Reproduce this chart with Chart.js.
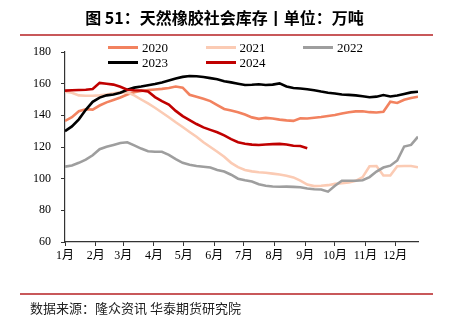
<!DOCTYPE html>
<html>
<head>
<meta charset="utf-8">
<script src="https://cdn.jsdelivr.net/npm/chart.js@4/dist/chart.umd.min.js"></script>
<style>
  html, body { margin: 0; padding: 0; background: #fff; }
  #wrap { position: relative; width: 449px; height: 324px; overflow: hidden; background: #fff; }
  #title { position: absolute; left: 0; top: 7px; width: 449px; text-align: center;
           font: bold 16px "Noto Sans CJK SC", sans-serif; line-height: 20px; color: #000; }
  .rule { position: absolute; left: 20px; width: 413px; height: 2px; background: #C8585A; }
  #src { position: absolute; left: 30px; top: 300px; font: 13px "Noto Sans CJK SC", sans-serif;
         line-height: 16px; color: #222; }
  #legend { position: absolute; left: 108px; top: 40px; display: grid;
            grid-template-columns: repeat(3, 97.5px); }
  .item { height: 15px; display: flex; align-items: center;
          font: 13px "Liberation Serif", serif; color: #000; white-space: nowrap; }
  .swatch { display: inline-block; width: 30px; height: 3px; margin-right: 4px; }
  canvas { position: absolute; left: 0; top: 0; }
</style>
</head>
<body>
<div id="wrap">
  <canvas id="c" width="449" height="324"></canvas>
  <div id="title">图 51：天然橡胶社会库存丨单位：万吨</div>
  <div class="rule" style="top:34px"></div>
  <div id="legend"></div>
  <div class="rule" style="top:293px"></div>
  <div id="src">数据来源：隆众资讯 华泰期货研究院</div>
</div>
<script>
// Weekly observation dates, as day of year
const weekDays = [0, 7, 14, 21, 28, 35, 42, 49, 56, 63, 70, 77, 84, 91, 98, 105, 112, 119, 126, 133,
  140, 147, 154, 161, 168, 175, 182, 189, 196, 203, 210, 217, 224, 231, 238, 245, 252, 259, 266, 273,
  280, 287, 294, 301, 308, 315, 322, 329, 336, 343, 350, 357];

// Month tick positions (day of year) and their labels
const monthStarts = [0, 31, 59, 90, 120, 151, 181, 212, 243, 273, 304, 334];
const monthLabels = ['1月', '2月', '3月', '4月', '5月', '6月', '7月', '8月', '9月', '10月', '11月', '12月'];

// Social inventory of natural rubber, 10k tonnes
const stock2020 = [136.5, 138.8, 142.6, 143.8, 143.6, 146.2, 148.2, 149.7, 151.3, 153.2, 154.6, 155.4, 155.9,
  156.3, 156.7, 157.3, 158.2, 157.5, 153, 151.7, 150.5, 149, 146.5, 144, 143, 142, 140.5, 138.7, 137.8,
  138.4, 138, 137.3, 136.8, 136.5, 138.1, 138, 138.5, 139, 139.6, 140.2, 141.2, 142, 142.5, 142.6, 142,
  141.8, 142.2, 148.6, 147.8, 149.8, 150.9, 151.8];
const stock2021 = [155, 154.3, 152.6, 152.4, 152.4, 152.6, 153.1, 153.9, 154.6, 154.5, 152.6, 150, 147.5,
  144.8, 141.8, 138.8, 135.6, 132.6, 129.5, 126.5, 123, 120, 117, 113.8, 110, 107.3, 105.5, 104.6, 104.1,
  103.7, 103.2, 102.6, 101.9, 100.8, 98.8, 96.3, 95.3, 95.5, 95.9, 96.7, 97.1, 97.6, 98.6, 101, 107.8,
  108, 102, 102, 107.8, 108, 108, 107.2];
const stock2022 = [107.6, 108.3, 110, 112, 114.8, 118.6, 120.2, 121.3, 122.5, 123, 121, 119, 117.3, 117,
  117, 115, 112.3, 110, 108.8, 108, 107.5, 107, 105.5, 104.5, 102.5, 100, 99, 98.2, 96.5, 95.5, 95.1,
  94.9, 95, 94.8, 94.6, 93.8, 93.3, 93.2, 91.8, 95.5, 98.7, 98.7, 98.7, 99, 101, 104.5, 107, 108.2,
  111.5, 120.3, 121.3, 126.5];
const stock2023 = [130, 133, 137.5, 143.5, 148.5, 151.2, 152.6, 153.2, 154.3, 156.2, 157.5, 158.2, 159,
  159.8, 160.8, 162, 163.3, 164.3, 164.8, 164.7, 164.2, 163.5, 162.8, 161.5, 160.8, 160, 159.2, 159.3,
  159.6, 159.2, 159.4, 160.2, 158.2, 157.3, 156.9, 156.5, 155.8, 155, 154.3, 153.8, 153.2, 152.9, 152.6,
  152, 151.4, 151.8, 152.8, 151.9, 152.5, 153.5, 154.5, 154.9];
const stock2024 = [155.6, 155.8, 156, 156.2, 156.6, 160.5, 160, 159.4, 158, 156.2, 155.8, 155.7, 155,
  151.5, 149, 146.8, 142.8, 139.5, 137, 134.5, 132.4, 130.8, 129.3, 127.3, 125, 123, 122.1, 121.5, 121.3,
  121.6, 121.8, 122, 121.6, 120.8, 120.6, 119.2];

const yTicks = [60, 80, 100, 120, 140, 160, 180];

const toPoints = vals => vals.map((v, i) => ({ x: weekDays[i], y: v }));

const series = [
  { label: '2020', values: stock2020, color: '#F2825F', order: 5 },
  { label: '2021', values: stock2021, color: '#FBCBB4', order: 4 },
  { label: '2022', values: stock2022, color: '#9E9E9E', order: 3 },
  { label: '2023', values: stock2023, color: '#000000', order: 2 },
  { label: '2024', values: stock2024, color: '#C00000', order: 1 }
];

const axisColor = '#333333';
const tickFont = { family: "'Liberation Serif', 'Noto Sans CJK SC', serif", size: 12 };

const chart = new Chart(document.getElementById('c'), {
  type: 'line',
  data: {
    datasets: series.map(s => ({
      label: s.label,
      data: toPoints(s.values),
      borderColor: s.color,
      backgroundColor: s.color,
      borderWidth: 2.6,
      pointRadius: 0,
      tension: 0,
      fill: false,
      order: s.order
    }))
  },
  options: {
    responsive: false,
    animation: false,
    layout: { padding: { left: 0, right: 31, top: 52, bottom: 52 } },
    plugins: { legend: { display: false }, tooltip: { enabled: false } },
    scales: {
      x: {
        type: 'linear',
        min: 0,
        max: 357,
        afterBuildTicks: scale => { scale.ticks = monthStarts.map(v => ({ value: v })); },
        afterFit: scale => { scale.height = 30; },
        ticks: {
          autoSkip: false,
          maxRotation: 0,
          padding: 3,
          color: '#000',
          font: tickFont,
          callback: value => monthLabels[monthStarts.indexOf(value)]
        },
        grid: { drawOnChartArea: false, tickLength: 4, tickColor: axisColor, tickWidth: 1 },
        border: { color: axisColor, width: 1.2 }
      },
      y: {
        min: 60,
        max: 180,
        afterBuildTicks: scale => { scale.ticks = yTicks.map(v => ({ value: v })); },
        afterFit: scale => { scale.width = 65; },
        ticks: { padding: 10, color: '#000', font: tickFont },
        grid: { drawOnChartArea: false, tickLength: 4, tickColor: axisColor, tickWidth: 1 },
        border: { color: axisColor, width: 1.2 }
      }
    }
  }
});

// Legend built from the chart's own datasets, three per row
const legendBox = document.getElementById('legend');
chart.data.datasets.forEach(ds => {
  const item = document.createElement('div');
  item.className = 'item';
  const sw = document.createElement('span');
  sw.className = 'swatch';
  sw.style.background = ds.borderColor;
  item.appendChild(sw);
  item.appendChild(document.createTextNode(ds.label));
  legendBox.appendChild(item);
});
</script>
</body>
</html>
